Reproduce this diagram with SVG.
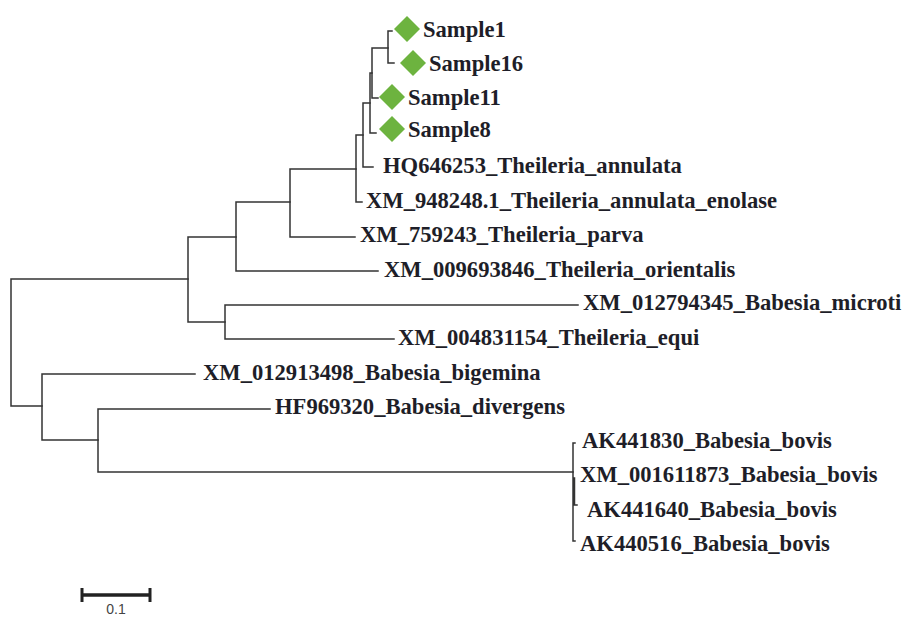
<svg xmlns="http://www.w3.org/2000/svg" width="906" height="617" viewBox="0 0 906 617">
<style>
.lbl{font-family:"Liberation Serif","Times New Roman",serif;font-weight:bold;font-size:22.6px;fill:#1e1e28}
.br{fill:none;stroke:#333;stroke-width:1.5;stroke-linecap:square}
.dia{fill:#6db33f}
.sc{font-family:"Liberation Sans",Arial,sans-serif;font-size:14px;fill:#444}
</style>
<defs>
<path id="diamond" d="M0,-13 L13,0 L0,13 L-13,0Z"/>
</defs>
<rect width="906" height="617" fill="#fff"/>
<g id="connectors" class="br">
<path d="M11,279 V406 M11,279 H188 M11,406 H42"/>
<path d="M188,237 V322 M188,237 H236 M188,322 H225"/>
<path d="M236,202 V271 M236,202 H290 M236,271 H378"/>
<path d="M290,169 V237 M290,169 H356 M290,237 H355"/>
<path d="M356,135 V202 M356,202 H362 M356,135 H363"/>
<path d="M363,103 V167 M363,167 H373 M363,103 H370"/>
<path d="M370,73 V133 M370,133 H376 M370,73 H372"/>
<path d="M372,48 V98 M372,98 H378 M372,48 H388"/>
<path d="M388,31 V63 M388,31 H392 M388,63 H394"/>
<path d="M225,305 V339 M225,305 H578 M225,339 H394"/>
<path d="M42,374 V440 M42,374 H195 M42,440 H98"/>
<path d="M98,409 V472 M98,409 H270 M98,472 H573"/>
<path d="M573,443 V541 M574.5,478 V505 M573,505 H577 M573,443 H575 M573,541 H575"/>
</g>
<g id="Sample1"><use href="#diamond" class="dia" x="407" y="29"/><text class="lbl" x="423" y="37">Sample1</text></g>
<g id="Sample16"><use href="#diamond" class="dia" x="413" y="63"/><text class="lbl" x="429" y="71">Sample16</text></g>
<g id="Sample11"><use href="#diamond" class="dia" x="392" y="97"/><text class="lbl" x="408" y="105">Sample11</text></g>
<g id="Sample8"><use href="#diamond" class="dia" x="392" y="129"/><text class="lbl" x="408" y="137">Sample8</text></g>
<g id="HQ646253"><text class="lbl" x="383" y="173">HQ646253_Theileria_annulata</text></g>
<g id="XM_948248"><text class="lbl" x="366" y="208">XM_948248.1_Theileria_annulata_enolase</text></g>
<g id="XM_759243"><text class="lbl" x="360" y="242">XM_759243_Theileria_parva</text></g>
<g id="XM_009693846"><text class="lbl" x="384" y="277">XM_009693846_Theileria_orientalis</text></g>
<g id="XM_012794345"><text class="lbl" x="583" y="310">XM_012794345_Babesia_microti</text></g>
<g id="XM_004831154"><text class="lbl" x="398" y="345">XM_004831154_Theileria_equi</text></g>
<g id="XM_012913498"><text class="lbl" x="203" y="380">XM_012913498_Babesia_bigemina</text></g>
<g id="HF969320"><text class="lbl" x="275" y="414">HF969320_Babesia_divergens</text></g>
<g id="AK441830"><text class="lbl" x="582" y="448">AK441830_Babesia_bovis</text></g>
<g id="XM_001611873"><text class="lbl" x="580" y="482">XM_001611873_Babesia_bovis</text></g>
<g id="AK441640"><text class="lbl" x="587" y="517">AK441640_Babesia_bovis</text></g>
<g id="AK440516"><text class="lbl" x="580" y="551">AK440516_Babesia_bovis</text></g>
<g id="scalebar">
<path d="M82,595 H150" stroke="#222" stroke-width="3.5" fill="none"/>
<path d="M82,588 V602 M150,588 V602" stroke="#222" stroke-width="3" fill="none"/>
<text class="sc" x="116" y="614" text-anchor="middle">0.1</text>
</g>
</svg>
